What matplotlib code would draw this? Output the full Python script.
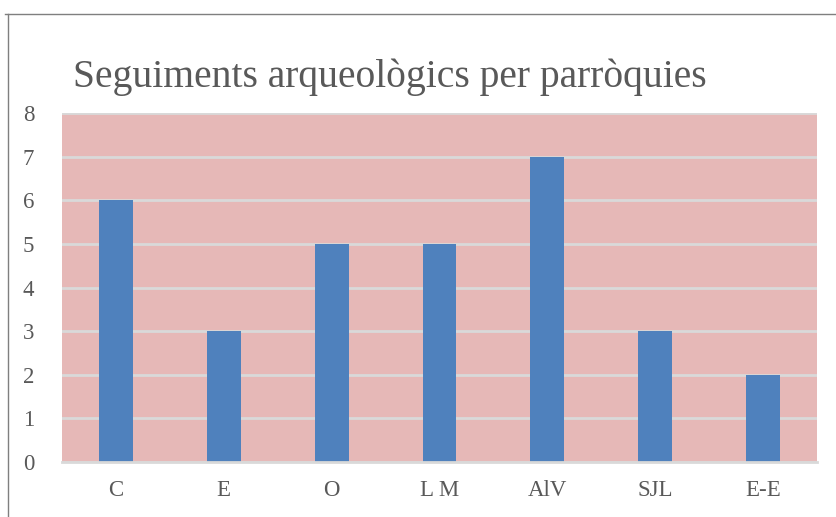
import matplotlib
matplotlib.use("Agg")
import matplotlib.pyplot as plt
from matplotlib.lines import Line2D

categories = ["C", "E", "O", "L M", "AlV", "SJL", "E-E"]
values = [6, 3, 5, 5, 7, 3, 2]
yticks = [0, 1, 2, 3, 4, 5, 6, 7, 8]
title = "Seguiments arqueològics per parròquies"

plt.rcParams['font.family'] = ['Liberation Serif', 'DejaVu Serif']

W, H = 836, 517
fig = plt.figure(figsize=(W/100, H/100), dpi=100)
fig.patch.set_facecolor("white")

ax = fig.add_axes([62/W, 1-462/H, (817-62)/W, (462-113)/H])
ax.set_facecolor("#E6B8B7")
x = list(range(len(categories)))
ax.bar(x, values, width=0.315, color="#4F81BD", zorder=3)
ax.set_xlim(-0.5, len(categories)-0.5)
ax.set_ylim(0, 8)
ax.set_yticks(yticks)
ax.set_xticks(x)
ax.set_xticklabels(categories)
ax.yaxis.grid(True, color="#D9D9D9", linewidth=2, zorder=1)
ax.set_axisbelow(True)
for s in ["top", "right", "left"]:
    ax.spines[s].set_visible(False)
ax.spines["bottom"].set_color("#D9D9D9")
ax.spines["bottom"].set_linewidth(2)
ax.spines["bottom"].set_zorder(4)
ax.tick_params(axis="both", length=0, labelsize=16.5, labelcolor="#595959")
ax.tick_params(axis="y", pad=20)
ax.tick_params(axis="x", pad=13)

fig.text(73/W, 1-87/H, title, fontsize=28.5, color="#595959", va="baseline", ha="left")

fig.add_artist(Line2D([5/W, 1], [1-14/H, 1-14/H], transform=fig.transFigure, color="#7F7F7F", linewidth=1))
fig.add_artist(Line2D([8/W, 8/W], [0, 1-14/H], transform=fig.transFigure, color="#7F7F7F", linewidth=1))

fig.savefig("out.png", dpi=100)
